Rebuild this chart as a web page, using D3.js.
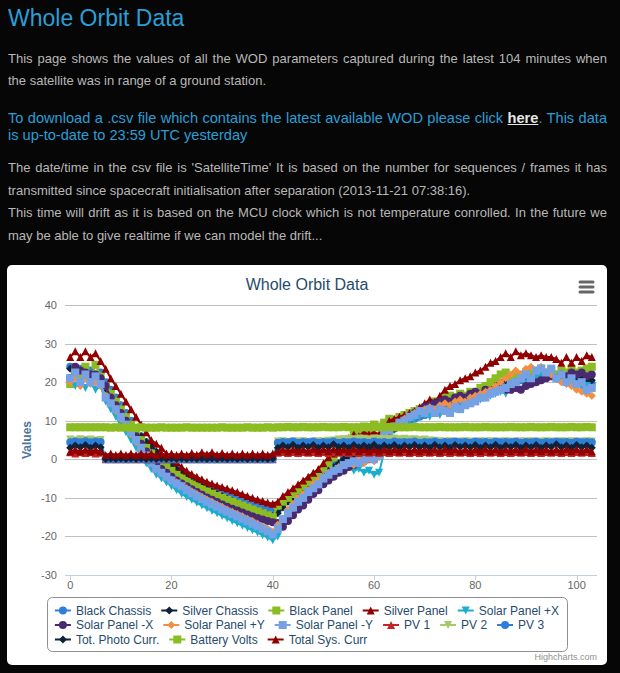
<!DOCTYPE html>
<html><head><meta charset="utf-8">
<script src="https://cdn.jsdelivr.net/npm/d3@7"></script>
<style>
html,body{margin:0;padding:0;background:#060606;width:620px;height:673px;overflow:hidden;}
.t{position:absolute;left:8px;width:599px;font-family:"Liberation Sans",Arial,sans-serif;line-height:1;white-space:nowrap;}
.j{text-align:justify;text-align-last:justify;}
.g{font-size:13px;color:#b8b8b8;}
.b{font-size:14.6px;color:#2a9fd6;}
.b a{color:#e6e6e6;font-weight:bold;text-decoration:underline;}
svg{position:absolute;left:0;top:0;}
</style></head><body>
<div class="t" style="top:6.5px;font-size:23px;color:#2a9fd6">Whole Orbit Data</div>
<div class="t g j" style="top:52px">This page shows the values of all the WOD parameters captured during the latest 104 minutes when</div>
<div class="t g" style="top:74px">the satellite was in range of a ground station.</div>
<div class="t b j" style="top:111px">To download a .csv file which contains the latest available WOD please click <a>here</a>. This data</div>
<div class="t b" style="top:128px">is up-to-date to 23:59 UTC yesterday</div>
<div class="t g j" style="top:161px">The date/time in the csv file is 'SatelliteTime' It is based on the number for sequences / frames it has</div>
<div class="t g" style="top:184px">transmitted since spacecraft initialisation after separation (2013-11-21 07:38:16).</div>
<div class="t g j" style="top:206px">This time will drift as it is based on the MCU clock which is not temperature conrolled. In the future we</div>
<div class="t g" style="top:229px">may be able to give realtime if we can model the drift...</div>
<svg id="chart" width="620" height="673"></svg>
<script>
// ---------------- DATA (minute index 0..103, ten values per row) ----------------
const chartTitle = "Whole Orbit Data";
const yAxisTitle = "Values";
const yTickValues = [-30, -20, -10, 0, 10, 20, 30, 40];
const xTickValues = [0, 20, 40, 60, 80, 100];

const blackChassis = [
 24,23,23.5,22.5,23,22,22.5,20,18,16,
 14,12,10,8,6,4.5,3,1.5,0.5,-0.5,
 -1.5,-2.5,-3.3,-4.2,-5,-5.7,-6.4,-7,-7.6,-8.2,
 -8.7,-9.2,-9.7,-10.2,-10.7,-11.1,-11.5,-12,-12.4,-12.8,
 -13.2,-13,-11.5,-10,-9,-8,-7,-6,-5,-4,
 -3,-2.5,-1.5,-1,0,0.5,1,1.5,2,2.5,
 3,3.5,6,8,8.5,9,9.5,10,10.5,11,
 11.5,12,12.5,13,13.5,14,14,14.5,15,15.5,
 16,16.5,17,17.5,18,18.5,19,19.5,20,20.5,
 21,21.5,22,22,22,21.5,21.5,21,21,20.5,
 20.5,20,20,19.5];
const silverChassis = [
 23.5,23,22.5,22,22,21.5,21,18,16,14,
 12,10.5,9,7.5,6,4.5,3.5,2,1,-0.5,
 -1.5,-2.5,-3.5,-4.5,-5.3,-6.1,-6.9,-7.6,-8.3,-9,
 -9.6,-10.2,-10.8,-11.4,-12,-12.5,-13,-13.5,-14,-14.4,
 -14.8,-14,-12.5,-11,-10,-9,-8,-7,-6,-5,
 -4,-3,-2,-1,0,0.5,1,1.5,2.5,3,
 3.5,4.5,7,8.5,9,10,10.5,11,11.5,12,
 12.5,13,13.5,14,14.5,15,15.5,16,16.5,17,
 17.5,18,18.5,19,19.5,20,20.5,21,21.5,22,
 22.5,22.5,22.5,22.5,22,22,22,21.5,21.5,21,
 21,21,20.5,20.5];
const blackPanel = [
 19.5,23.5,22,24,20.5,24.5,21.5,19,17,15,
 13,11,9,7,5,3,1.5,0,-1,-2,
 -3,-4,-4.8,-5.6,-6.3,-7,-7.7,-8.3,-8.9,-9.5,
 -10,-10.5,-11,-11.5,-12,-12.5,-13,-13.5,-14,-14.5,
 -15,-12,-11,-10,-9,-8,-7,-6,-5,-4,
 -2.5,-1,0.5,2,3.5,5,6.5,7.5,8.5,8,
 9,8.5,9.5,10.5,10,11,11.5,12,12.5,13,
 13.5,14,15,14.5,16,16.5,16,17,16.5,17.5,
 17,18.5,19,20,21,22,22.5,21.5,22,21,
 22.5,23,22,23.5,22.5,23,22,23,22.5,23.5,
 22.5,23,23.5,24];
const silverPanel = [
 26.5,28,26.5,28,26.5,27.5,25.5,23.5,21,19,
 17,15,13,11,9,7,5,4,3,1.5,
 0.5,-0.8,-2,-3,-3.8,-4.5,-5.2,-5.8,-6.3,-6.8,
 -7.2,-7.6,-8,-8.5,-9,-9.5,-10,-10.4,-10.8,-11.2,
 -11.5,-11,-9.5,-8.5,-7.5,-6.5,-5.5,-4.5,-3.5,-2.5,
 -1,0.5,1.5,3,4.5,5.5,6.5,6,7,6.5,
 7,6.5,8,10,10.5,11,11.5,12,12.5,13.5,
 14.5,15.5,15,16.5,18,19,19.5,20.5,21,21.5,
 22.5,23,24,25,25.5,26.5,27.5,26.5,28,27,
 27.5,27,26.5,27,26.5,26.5,26,25,26.5,25,
 26.5,25.5,27,26.5];
const solarPanelPlusX = [
 21,19,20,18.5,20,18,19,15,13,11,
 9,7,5,3,1,-1,-2.5,-4,-5,-6,
 -7,-8,-9,-9.8,-10.5,-11.3,-12,-12.7,-13.4,-14,
 -14.7,-15.3,-16,-16.6,-17.2,-17.8,-18.4,-19,-19.7,-20.3,
 -21,-20,-16,-14,-12.5,-11,-9.5,-8.5,-7.5,-6.5,
 -5.5,-4.5,-4,-3,-2.5,-2,-3,-2.5,-3.5,-3,
 -4,-3.5,2,6,7.5,8.5,9.5,10,10.5,11,
 11.5,11,12,11.5,12.5,12,13,13.5,14,14.5,
 15,15.5,16,16.5,17,17.5,17,18,18.5,18,
 19.5,20,21,21.5,22,21.5,21,20.5,20,19.5,
 19,18.5,19,18.5];
const solarPanelMinusX = [
 21,24,23,22.5,22,22,21,19,16,14,
 12,10,8,6,4,2,0.5,-1,-2.5,-3.5,
 -4.5,-5.5,-6.3,-7,-7.8,-8.5,-9.2,-9.9,-10.5,-11.1,
 -11.7,-12.3,-12.8,-13.3,-13.8,-14.3,-14.8,-15.2,-15.6,-16,
 -16.3,-16.5,-17.5,-16,-14.5,-13,-12,-10.5,-9,-8,
 -6.5,-5.5,-4.5,-3.5,-3,-2,-1.5,-1,-0.5,0,
 0.5,1,4,7,8,9,10,11,12,12.5,
 13.5,14,14.5,15,15.5,15,16,16.5,16,17,
 17.5,17,18,17.5,18,18.5,18,18,18.5,18,
 19,19.5,20,20.5,21,21.5,21,22,21.5,22.5,
 22,22.5,21.5,22];
const solarPanelPlusY = [
 20,21,19,21,19.5,20,19,16.5,14.5,12.5,
 10.5,8.5,6.5,4.5,2.5,0.5,-1,-2.5,-3.5,-4.5,
 -5.3,-6,-6.8,-7.5,-8.3,-9,-9.7,-10.4,-11,-11.7,
 -12.3,-13,-13.6,-14.2,-14.8,-15.4,-16,-16.7,-17.4,-18,
 -18.8,-17,-15.5,-13,-11.5,-10,-9,-8,-6.5,-5.5,
 -4.5,-3.5,-3,-2,-1.5,-1,-1.5,-0.5,-1,0,
 -0.5,0.5,5,7.5,8.5,9.5,10.5,11,12,12.5,
 13,13.5,13,14,14.5,14,15,15.5,15,16,
 16.5,17,17.5,18,19,20,21,22,23,22,
 23.5,24,23,24,22.5,22,21,20,19.5,19,
 18,17.5,17,16.5];
const solarPanelMinusY = [
 21,22.5,20,22,20,21.5,19.5,16,14.5,13,
 11,9,7,5,3,1,-1,-2.5,-3.5,-4.5,
 -5.5,-6.3,-7,-8,-8.8,-9.6,-10.3,-11,-11.7,-12.3,
 -13,-13.6,-14.2,-14.8,-15.4,-16,-16.7,-17.3,-18,-18.7,
 -19.5,-18,-15.5,-14,-12.5,-11,-10,-8.5,-7.5,-6.5,
 -5,-4,-3,-2.5,-1.5,-1,-0.5,-1,0,0.5,
 0,1,6.5,7.5,8.5,9.5,10,11,11.5,12.5,
 12,13,12,13,12.5,12,13.5,13,14,14.5,
 15,16,16,17,17.5,18,18.5,19.5,20,21,
 22,21,23,23.5,22.5,23.5,21,22,20,21,
 19.5,20,18,18.5];
const pv1 = [
 1.8,1.5,1.8,1.6,1.8,1.5,1.7,0,0,0,
 0,0,0,0,0,0,0,0,0,0,
 0,0,0,0,0,0,0,0,0,0,
 0,0,0,0,0,0,0,0,0,0,
 0,1.7,1.9,1.6,1.9,1.6,1.9,1.7,1.9,1.6,
 1.9,1.6,1.9,1.7,1.9,1.6,1.9,1.6,1.9,1.7,
 1.9,1.6,1.9,1.6,1.9,1.7,1.9,1.6,1.9,1.6,
 1.9,1.7,1.9,1.6,1.9,1.6,1.9,1.7,1.9,1.6,
 1.9,1.6,1.9,1.7,1.9,1.6,1.9,1.6,1.9,1.7,
 1.9,1.6,1.9,1.6,1.9,1.7,1.9,1.6,1.9,1.6,
 1.9,1.7,1.9,1.6];
const pv2 = [
 5.1,4.9,5.2,5.0,5.1,4.9,5.0,0,0,0,
 0,0,0,0,0,0,0,0,0,0,
 0,0,0,0,0,0,0,0,0,0,
 0,0,0,0,0,0,0,0,0,0,
 0,4.6,4.7,4.5,4.7,4.6,4.7,4.5,4.6,4.7,
 4.6,4.8,4.9,5.1,5.2,5.3,5.2,5.4,5.3,5.2,
 5.4,5.3,5.2,5.3,5.4,5.2,5.3,5.1,5.2,5.0,
 5.1,4.9,4.8,4.7,4.6,4.7,4.5,4.6,4.7,4.6,
 4.5,4.7,4.6,4.7,4.5,4.6,4.7,4.6,4.5,4.7,
 4.6,4.7,4.5,4.6,4.7,4.6,4.5,4.7,4.6,4.7,
 4.5,4.6,4.7,4.6];
const pv3 = [
 4.4,4.6,4.4,4.7,4.4,4.6,4.5,0,0,0,
 0,0,0,0,0,0,0,0,0,0,
 0,0,0,0,0,0,0,0,0,0,
 0,0,0,0,0,0,0,0,0,0,
 0,4.3,4.5,4.4,4.6,4.3,4.5,4.4,4.6,4.3,
 4.5,4.4,4.6,4.3,4.5,4.4,4.6,4.4,4.5,4.3,
 4.6,4.4,4.5,4.3,4.6,4.4,4.5,4.4,4.6,4.3,
 4.5,4.4,4.6,4.3,4.5,4.4,4.6,4.4,4.5,4.3,
 4.6,4.4,4.5,4.3,4.6,4.4,4.5,4.4,4.6,4.3,
 4.5,4.4,4.6,4.3,4.5,4.4,4.6,4.4,4.5,4.3,
 4.6,4.4,4.5,4.4];
const totPhotoCurr = [
 3.0,3.6,3.1,3.7,3.0,3.6,3.1,0.1,0.2,0.1,
 0.2,0.1,0.2,0.1,0.2,0.1,0.2,0.1,0.2,0.1,
 0.2,0.1,0.2,0.1,0.2,0.1,0.2,0.1,0.2,0.1,
 0.2,0.1,0.2,0.1,0.2,0.1,0.2,0.1,0.2,0.1,
 0.2,3.0,3.6,3.1,3.8,3.0,3.6,3.2,3.7,3.0,
 3.6,3.1,3.9,3.2,3.6,3.0,3.7,3.1,3.6,3.2,
 3.8,3.0,3.6,3.1,3.7,3.0,3.6,3.2,3.7,3.1,
 3.6,3.0,3.8,3.1,3.6,3.0,3.7,3.2,3.6,3.1,
 3.7,3.0,3.6,3.1,3.8,3.0,3.6,3.2,3.7,3.0,
 3.6,3.1,3.7,3.0,3.6,3.2,3.9,3.1,3.6,3.0,
 3.7,3.1,3.6,3.0];
const batteryVolts = [
 8.3,8.3,8.3,8.3,8.3,8.3,8.3,8.3,8.2,8.3,
 8.2,8.3,8.2,8.2,8.3,8.2,8.2,8.2,8.3,8.2,
 8.2,8.2,8.2,8.3,8.2,8.2,8.2,8.2,8.2,8.2,
 8.3,8.2,8.2,8.2,8.2,8.3,8.2,8.2,8.2,8.3,
 8.2,8.3,8.3,8.4,8.3,8.3,8.4,8.3,8.3,8.3,
 8.4,8.3,8.3,8.3,8.4,8.3,8.3,8.3,8.3,8.4,
 8.3,8.3,8.3,8.4,8.3,8.3,8.3,8.3,8.4,8.3,
 8.3,8.3,8.3,8.4,8.3,8.3,8.3,8.3,8.4,8.3,
 8.3,8.3,8.4,8.3,8.3,8.3,8.3,8.4,8.3,8.3,
 8.3,8.4,8.3,8.3,8.3,8.4,8.3,8.3,8.3,8.4,
 8.3,8.3,8.4,8.3];
const totalSysCurr = [
 2.0,2.5,2.0,2.5,2.0,2.5,2.0,1.1,1.5,1.1,
 1.5,1.1,1.5,1.1,1.5,1.1,1.5,1.1,1.5,1.1,
 1.5,1.1,1.5,1.1,1.6,1.2,1.8,1.3,1.8,1.2,
 1.6,1.1,1.5,1.1,1.5,1.1,1.5,1.1,1.5,1.1,
 1.5,2.0,2.6,2.0,2.6,2.1,2.6,2.0,2.7,2.0,
 2.6,2.1,2.6,2.0,2.6,2.0,2.7,2.1,2.6,2.0,
 2.6,2.0,2.6,2.1,2.6,2.0,2.7,2.0,2.6,2.1,
 2.6,2.0,2.6,2.0,2.7,2.1,2.6,2.0,2.6,2.0,
 2.6,2.1,2.7,2.0,2.6,2.0,2.6,2.1,2.6,2.0,
 2.7,2.0,2.6,2.1,2.6,2.0,2.6,2.0,2.7,2.1,
 2.6,2.0,2.6,2.0];

const seriesNames = ["Black Chassis","Silver Chassis","Black Panel","Silver Panel","Solar Panel +X",
 "Solar Panel -X","Solar Panel +Y","Solar Panel -Y","PV 1","PV 2","PV 3",
 "Tot. Photo Curr.","Battery Volts","Total Sys. Curr"];
const seriesValues = [blackChassis,silverChassis,blackPanel,silverPanel,solarPanelPlusX,
 solarPanelMinusX,solarPanelPlusY,solarPanelMinusY,pv1,pv2,pv3,totPhotoCurr,batteryVolts,totalSysCurr];

// ---------------- STYLE ----------------
const palette = ['#2f7ed8','#0d233a','#8bbc21','#910000','#1aadce','#492970','#f28f43','#77a1e5','#c42525','#a6c96a'];
const symbolCycle = ['circle','diamond','square','triangle','triangle-down'];
const FONT = '"Liberation Sans", Arial, Helvetica, sans-serif';

document.querySelectorAll('.t').forEach(el=>{
  const r = document.createRange(); r.selectNodeContents(el);
  const w = r.getBoundingClientRect().width;
  if (w > 599) el.style.letterSpacing = (-(w-599)/el.textContent.length - 0.02) + 'px';
});

const svg = d3.select('#chart');
const box = {x:7, y:265, w:600, h:400};
const plot = {l:65, t:305, r:597, b:575};

svg.append('rect').attr('x',box.x).attr('y',box.y).attr('width',box.w).attr('height',box.h)
  .attr('rx',5).attr('fill','#ffffff');

const n = d3.max(seriesValues, s=>s.length);
const pad = (n-1)*0.01;
const x = d3.scaleLinear().domain([0-pad, n-1+pad]).range([plot.l, plot.r]);
const y = d3.scaleLinear().domain([d3.min(yTickValues), d3.max(yTickValues)]).range([plot.b, plot.t]);

svg.append('g').selectAll('line').data(yTickValues).join('line')
  .attr('x1',plot.l).attr('x2',plot.r)
  .attr('y1',d=>Math.round(y(d))+0.5).attr('y2',d=>Math.round(y(d))+0.5)
  .attr('stroke','#C0C0C0').attr('stroke-width',1);

svg.append('g').selectAll('text').data(yTickValues).join('text')
  .attr('x',plot.l-8).attr('y',d=>y(d)+4).attr('text-anchor','end')
  .attr('font-family',FONT).attr('font-size',11).attr('fill','#666666').text(d=>d);

svg.append('line').attr('x1',plot.l).attr('x2',plot.r)
  .attr('y1',plot.b+0.5).attr('y2',plot.b+0.5).attr('stroke','#C0D0E0');
svg.append('g').selectAll('line').data(xTickValues).join('line')
  .attr('x1',d=>Math.round(x(d))+0.5).attr('x2',d=>Math.round(x(d))+0.5)
  .attr('y1',plot.b).attr('y2',plot.b+5).attr('stroke','#C0D0E0');
svg.append('g').selectAll('text').data(xTickValues).join('text')
  .attr('x',d=>x(d)).attr('y',plot.b+14).attr('text-anchor','middle')
  .attr('font-family',FONT).attr('font-size',11).attr('fill','#666666').text(d=>d);

svg.append('text').attr('transform',`translate(31,${(plot.t+plot.b)/2}) rotate(-90)`)
  .attr('text-anchor','middle').attr('font-family',FONT).attr('font-size',12)
  .attr('font-weight','bold').attr('fill','#4d759e').text(yAxisTitle);

svg.append('text').attr('x',box.x+box.w/2).attr('y',290).attr('text-anchor','middle')
  .attr('font-family',FONT).attr('font-size',16).attr('fill','#274b6d').text(chartTitle);

[282,287,292].forEach(yy=>svg.append('line').attr('x1',580).attr('x2',593)
  .attr('y1',yy).attr('y2',yy).attr('stroke','#666').attr('stroke-width',3).attr('stroke-linecap','round'));

function symbolPath(type, cx, cy, r){
  switch(type){
    case 'circle': return `M${cx-r},${cy}a${r},${r} 0 1,0 ${2*r},0a${r},${r} 0 1,0 ${-2*r},0Z`;
    case 'square': return `M${cx-r},${cy-r}H${cx+r}V${cy+r}H${cx-r}Z`;
    case 'diamond': return `M${cx},${cy-r}L${cx+r},${cy}L${cx},${cy+r}L${cx-r},${cy}Z`;
    case 'triangle': return `M${cx},${cy-r}L${cx+r},${cy+r}L${cx-r},${cy+r}Z`;
    case 'triangle-down': return `M${cx-r},${cy-r}L${cx+r},${cy-r}L${cx},${cy+r}Z`;
  }
}

const line = d3.line().x((d,i)=>x(i)).y(d=>y(d));
seriesValues.forEach((vals, si)=>{
  const col = palette[si % palette.length];
  const sym = symbolCycle[si % symbolCycle.length];
  const g = svg.append('g');
  g.append('path').attr('d', line(vals)).attr('fill','none').attr('stroke',col)
    .attr('stroke-width',2).attr('stroke-linejoin','round').attr('stroke-linecap','round');
  g.selectAll('path.m').data(vals).join('path').attr('class','m')
    .attr('d',(d,i)=>symbolPath(sym, x(i), y(d), 4)).attr('fill',col);
});

// legend
const lg = svg.append('g');
const padL = 8, symW = 16, symPad = 5, itemDist = 10, maxInner = 584;
const items = seriesNames.map((name, i)=>{
  const t = lg.append('text').attr('font-family',FONT).attr('font-size',12).attr('fill','#274b6d').text(name);
  return {name, i, t, w: t.node().getComputedTextLength()};
});
const rows = [[]]; let cx = 0;
items.forEach(it=>{
  const iw = symW + symPad + it.w;
  if (cx > 0 && cx + iw > maxInner){ rows.push([]); cx = 0; }
  it.rx = cx; rows[rows.length-1].push(it); cx += iw + itemDist;
});
const rowWidths = rows.map(r=>{ const l=r[r.length-1]; return l.rx + symW + symPad + l.w; });
const lw = d3.max(rowWidths) + 2*padL;
const lx = box.x + box.w/2 - lw/2;
const ly = 597, rowH = 14.5, firstRow = 610.5;
lg.insert('rect','text').attr('x',Math.round(lx)+0.5).attr('y',ly+0.5).attr('width',Math.round(lw))
  .attr('height',rows.length*rowH + 10.5).attr('rx',5).attr('fill','none').attr('stroke','#909090');
rows.forEach((r, ri)=>{
  const cy = firstRow + ri*rowH;
  r.forEach(it=>{
    const sx = lx + padL + it.rx;
    const col = palette[it.i % palette.length];
    lg.append('line').attr('x1',sx).attr('x2',sx+symW).attr('y1',cy).attr('y2',cy)
      .attr('stroke',col).attr('stroke-width',2);
    lg.append('path').attr('d',symbolPath(symbolCycle[it.i % symbolCycle.length], sx+symW/2, cy, 4)).attr('fill',col);
    it.t.attr('x', sx + symW + symPad).attr('y', cy + 4);
  });
});

svg.append('text').attr('x',box.x+box.w-10).attr('y',box.y+box.h-5).attr('text-anchor','end')
  .attr('font-family',FONT).attr('font-size',9).attr('fill','#909090').text('Highcharts.com');
</script>
</body></html>
